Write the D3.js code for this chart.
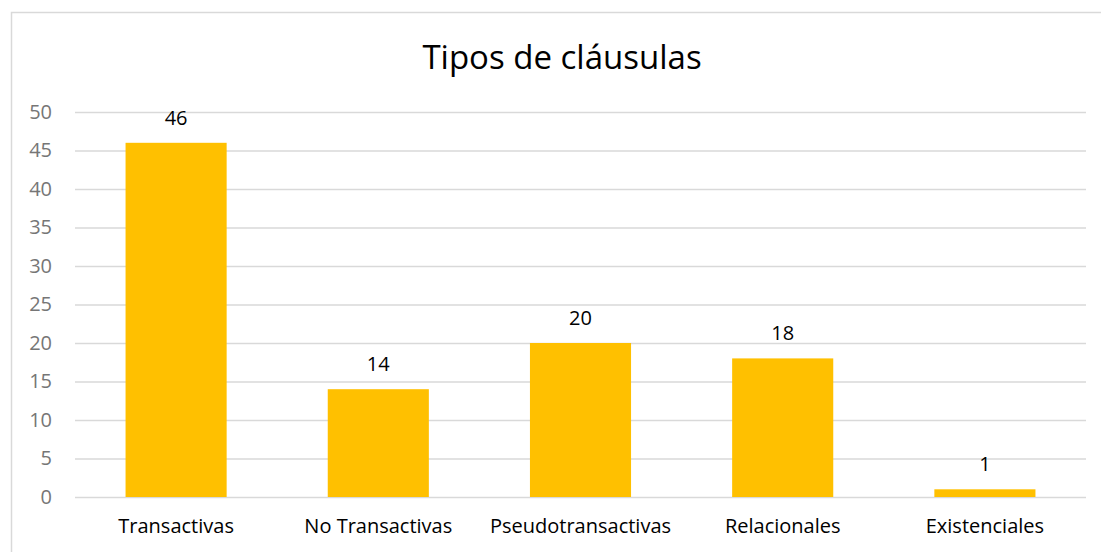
<!DOCTYPE html>
<html>
<head>
<meta charset="utf-8">
<title>Tipos de cláusulas</title>
<script src="https://d3js.org/d3.v7.min.js"></script>
<style>
  html, body { margin: 0; padding: 0; background: #fff; overflow: hidden; }
  svg { display: block; font-family: "Open Sans", "Noto Sans", sans-serif; }
</style>
</head>
<body>
<div id="chart"></div>
<script>
  // datos
  const categorias = ['Transactivas', 'No Transactivas', 'Pseudotransactivas', 'Relacionales', 'Existenciales'];
  const valores = [46, 14, 20, 18, 1];
  const ticksY = [0, 5, 10, 15, 20, 25, 30, 35, 40, 45, 50];

  const svgw = 1101, svgh = 552;
  const margen = {sup: 112, inf: 55, izq: 75, der: 15};
  const vizw = svgw - margen.izq - margen.der;
  const vizh = 497 - margen.sup;

  const svg = d3.select('#chart').append('svg')
    .attr('width', svgw)
    .attr('height', svgh);

  // marco del gráfico: sólo se ven los bordes superior e izquierdo
  svg.append('path')
    .attr('d', `M11.5,${svgh}V12.5H${svgw}`)
    .attr('fill', 'none')
    .attr('stroke', '#d9d9d9')
    .attr('stroke-width', 1.5);

  svg.append('text')
    .attr('x', 562).attr('y', 69)
    .attr('text-anchor', 'middle')
    .attr('font-size', 33)
    .attr('fill', '#000')
    .text('Tipos de cláusulas');

  const x = d3.scaleBand()
    .domain(categorias)
    .range([0, vizw])
    .paddingInner(0.5)
    .paddingOuter(0.25);

  const y = d3.scaleLinear()
    .domain([0, 50])
    .range([vizh, 0]);

  const g = svg.append('g')
    .attr('transform', `translate(${margen.izq},${margen.sup})`);

  // eje y con líneas de cuadrícula
  const ejeY = g.append('g')
    .call(d3.axisLeft(y).tickValues(ticksY).tickSize(-vizw).tickPadding(23));
  ejeY.select('.domain').remove();
  ejeY.selectAll('line').attr('stroke', '#d9d9d9').attr('stroke-width', 1.3);
  ejeY.selectAll('text')
    .attr('font-size', 20)
    .attr('fill', '#767676')
    .attr('font-family', '"Open Sans", sans-serif');

  // eje x
  const ejeX = g.append('g')
    .attr('transform', `translate(0,${vizh})`)
    .call(d3.axisBottom(x).tickSize(0).tickPadding(22));
  ejeX.select('.domain').remove();
  ejeX.selectAll('text')
    .attr('font-size', 20)
    .attr('fill', '#000')
    .attr('font-family', '"Open Sans", sans-serif');

  // barras
  const datos = categorias.map((c, i) => ({cat: c, val: valores[i]}));

  g.selectAll('rect.barra')
    .data(datos)
    .enter()
    .append('rect')
    .attr('class', 'barra')
    .attr('x', d => x(d.cat))
    .attr('y', d => y(d.val))
    .attr('width', x.bandwidth())
    .attr('height', d => vizh - y(d.val))
    .attr('fill', '#ffc000');

  g.selectAll('text.etiqueta')
    .data(datos)
    .enter()
    .append('text')
    .attr('class', 'etiqueta')
    .attr('x', d => x(d.cat) + x.bandwidth() / 2)
    .attr('y', d => y(d.val) - 18)
    .attr('text-anchor', 'middle')
    .attr('font-size', 20)
    .attr('fill', '#000')
    .text(d => d.val);
</script>
</body>
</html>
